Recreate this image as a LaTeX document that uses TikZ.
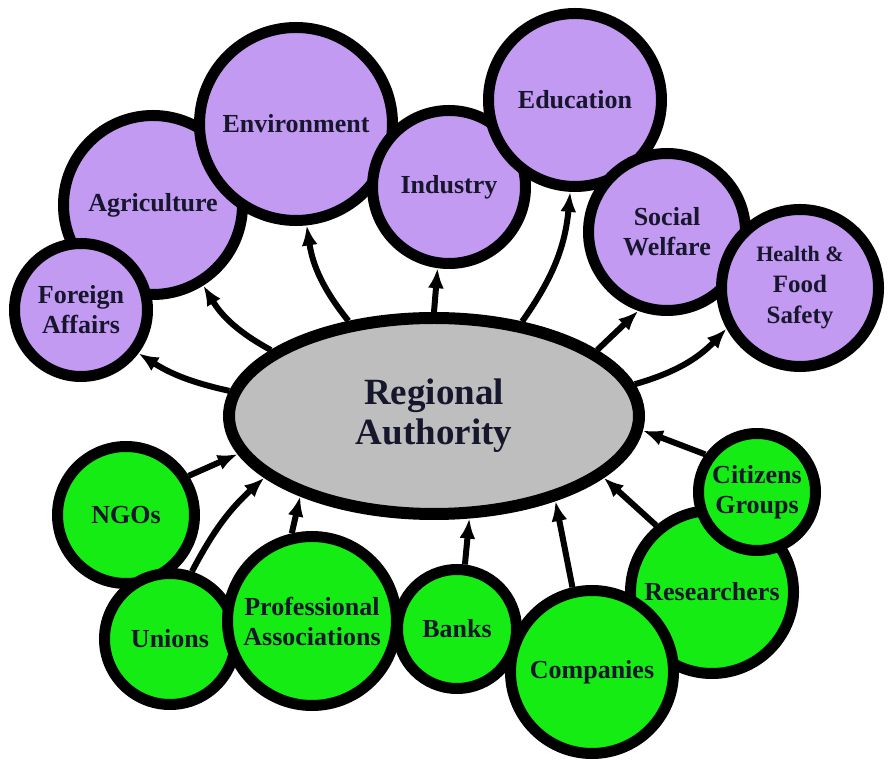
\documentclass[tikz,border=0pt]{standalone}
\usepackage{fontspec}
\setmainfont{Liberation Serif}
\usetikzlibrary{arrows.meta,shapes.geometric}
\definecolor{ink}{HTML}{16162C}
\definecolor{lilac}{HTML}{C29AF2}
\definecolor{leaf}{HTML}{14EC14}
\definecolor{stone}{HTML}{BEBEBE}

\begin{document}
\begin{tikzpicture}[x=1pt,y=1pt,>={Latex[length=20pt,width=16pt]},
  blob/.style={circle,draw=black,line width=11pt,inner sep=0pt,align=center,text=ink,font=\fontsize{26}{30}\selectfont\bfseries},
  area/.style={blob,fill=lilac},
  actor/.style={blob,fill=leaf},
  link/.style={->,line width=6pt}]
\useasboundingbox (0,0) rectangle (896,768);
% the authority
\node[ellipse,draw=black,fill=stone,line width=12pt,minimum width=410,minimum height=196,inner sep=0pt,align=center,text=ink,font=\fontsize{37}{40}\selectfont\bfseries] (ra) at (434,352) {Regional\\Authority};
% policy areas
\node[area,minimum size=179] (ag) at (153,563) {Agriculture};
\node[area,minimum size=193] (env) at (296,644) {Environment};
\node[area,minimum size=153] (ind) at (449,581) {Industry};
\node[area,minimum size=173] (edu) at (575,668) {Education};
\node[area,minimum size=157] (soc) at (667,536) {Social\\Welfare};
\node[area,minimum size=157,font=\fontsize{25}{31}\selectfont\bfseries] (hfs) at (800,480) {{\fontsize{22}{31}\selectfont Health \&}\\Food\\Safety};
\node[area,minimum size=133] (fa) at (81,458) {Foreign\\Affairs};
% stakeholders
\node[actor,minimum size=137] (ngo) at (126,253) {NGOs};
\node[actor,minimum size=131] (uni) at (170,129) {Unions};
\node[actor,minimum size=169] (pro) at (312,147) {Professional\\Associations};
\node[actor,minimum size=119] (ban) at (457,139) {Banks};
\node[actor,minimum size=163] (res) at (712,176) {Researchers};
\node[actor,minimum size=163] (com) at (592,96) {Companies};
\node[actor,minimum size=117] (cit) at (757,276) {Citizens\\Groups};
% outgoing
\draw[link] (ra.173) to[bend left=10] (fa.323);
\draw[link] (ra.158) to[bend left=15] (ag.302);
\draw[link] (ra.132) to[bend left=15] (env.276);
\draw[link] (ra.90) -- (ind.262);
\draw[link] (ra.47) to[bend right=15] (edu.267);
\draw[link] (ra.22) -- (soc.250);
\draw[link] (ra.9) to[bend right=15] (hfs.209);
% incoming
\draw[link] (ngo.32) -- (ra.191);
\draw[link] (uni.72) to[bend left=10] (ra.200);
\draw[link] (pro.103) -- (ra.211);
\draw[link] (ban.83) -- (ra.289);
\draw[link] (com.103) -- (ra.325);
\draw[link] (res.130) -- (ra.340);
\draw[link] (cit.144) -- (ra.356);
\end{tikzpicture}
\end{document}
